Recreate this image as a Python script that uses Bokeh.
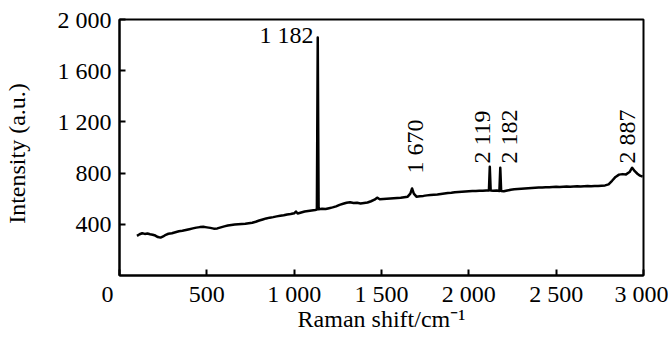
from math import pi
from bokeh.plotting import figure
from bokeh.models import FixedTicker, Range1d, ColumnDataSource
from bokeh.core.properties import value
from bokeh.embed import file_html
from bokeh.resources import INLINE

# ---- data ----
shift = [100, 115, 130, 145, 160, 175, 190, 205, 220, 235, 250, 265, 280, 300, 320, 340, 360, 380,
         400, 420, 440, 460, 480, 500, 520, 540, 560, 580, 600, 620, 640, 660, 680, 700, 720, 740,
         760, 780, 800, 820, 840, 860, 880, 900, 920, 940, 960, 980, 1000, 1010, 1020, 1040, 1060,
         1080, 1100, 1120, 1130, 1135, 1140, 1160, 1180, 1200, 1220, 1240, 1260, 1280, 1300, 1320,
         1340, 1360, 1380, 1400, 1420, 1440, 1460, 1475, 1490, 1510, 1530, 1550, 1570, 1590, 1610,
         1630, 1650, 1665, 1675, 1685, 1700, 1720, 1740, 1760, 1780, 1800, 1820, 1840, 1860, 1880,
         1900, 1920, 1940, 1960, 1980, 2000, 2020, 2040, 2060, 2080, 2100, 2115, 2120, 2125, 2140,
         2160, 2175, 2180, 2185, 2200, 2220, 2240, 2260, 2280, 2300, 2320, 2340, 2360, 2380, 2400,
         2420, 2440, 2460, 2480, 2500, 2520, 2540, 2560, 2580, 2600, 2620, 2640, 2660, 2680, 2700,
         2720, 2740, 2760, 2780, 2800, 2820, 2840, 2860, 2880, 2900, 2920, 2935, 2950, 2965, 2980,
         2995]
intensity = [310, 322, 330, 325, 328, 322, 318, 312, 300, 296, 305, 318, 326, 330, 338, 346, 350, 356,
             362, 368, 374, 378, 380, 376, 372, 366, 368, 376, 384, 390, 394, 398, 400, 402, 404, 408,
             412, 420, 430, 438, 446, 452, 456, 462, 466, 470, 476, 480, 486, 500, 484, 492, 500,
             504, 508, 512, 516, 1860, 518, 522, 520, 526, 532, 540, 552, 560, 568, 572,
             566, 568, 562, 566, 570, 580, 592, 608, 596, 598, 600, 602, 604, 606, 608,
             612, 616, 640, 680, 640, 616, 620, 622, 626, 628, 630, 632, 636, 640, 644,
             646, 650, 652, 654, 656, 658, 660, 660, 662, 662, 664, 664, 850, 664, 662,
             664, 660, 842, 660, 658, 664, 670, 674, 676, 678, 680, 682, 684, 686, 688,
             688, 690, 690, 692, 694, 692, 694, 696, 694, 696, 698, 696, 698, 700, 698,
             700, 700, 702, 704, 712, 740, 770, 788, 792, 790, 808, 842, 815, 795, 780,
             772]

peak_labels = ["1 182", "1 670", "2 119", "2 182", "2 887"]

x_ticks = [0, 500, 1000, 1500, 2000, 2500, 3000]
x_tick_labels = ["0", "500", "1 000", "1 500", "2 000", "2 500", "3 000"]
y_ticks = [400, 800, 1200, 1600, 2000]
y_tick_labels = ["400", "800", "1 200", "1 600", "2 000"]

FONT = "Liberation Serif"
NBSP = "\u00a0"

p = figure(width=668, height=340, output_backend="svg", toolbar_location=None,
           x_range=Range1d(0, 3000), y_range=Range1d(0, 2000),
           min_border_left=119, min_border_right=25, min_border_top=19, min_border_bottom=65,
           background_fill_color="white", border_fill_color="white")
p.grid.visible = False
p.outline_line_color = "black"
p.outline_line_width = 2
p.outline_line_alpha = 1

for ax in (p.xaxis[0], p.yaxis[0]):
    ax.axis_line_width = 2
    ax.axis_line_color = "black"
    ax.major_tick_line_width = 2
    ax.major_tick_line_color = "black"
    ax.major_tick_in = 6
    ax.major_tick_out = 0
    ax.minor_tick_line_color = None
    ax.major_label_text_font = FONT
    ax.major_label_text_font_size = "24px"
    ax.major_label_text_color = "black"
    ax.axis_label_text_font = FONT
    ax.axis_label_text_font_size = "24px"
    ax.axis_label_text_font_style = "normal"
    ax.axis_label_text_color = "black"

# the shared origin "0" sits left of the corner
overrides = dict(zip(x_ticks, x_tick_labels))
overrides[0] = overrides[0] + NBSP * 4
p.xaxis.ticker = FixedTicker(ticks=x_ticks)
p.xaxis.major_label_overrides = overrides
p.xaxis.major_label_standoff = 5
p.xaxis.axis_label = "Raman shift/cm\u207b\u00b9"
p.xaxis.axis_label_standoff = -4

p.yaxis.ticker = FixedTicker(ticks=y_ticks)
p.yaxis.major_label_overrides = dict(zip(y_ticks, y_tick_labels))
p.yaxis.major_label_standoff = 8
p.yaxis.axis_label = "Intensity (a.u.)" + NBSP * 2
p.yaxis.axis_label_standoff = 25

p.line(shift, intensity, line_color="black", line_width=2.5, line_join="round")

# peak annotations
p.text(x=[1110], y=[1880], text=[peak_labels[0]], text_align="right", text_baseline="middle",
       text_font=value(FONT), text_font_size="24px", text_color="black")
rot = ColumnDataSource(dict(x=[1689, 2078, 2232, 2908], y=[797, 875, 875, 875], t=peak_labels[1:]))
p.text(x="x", y="y", text="t", source=rot, angle=pi / 2, text_align="left", text_baseline="middle",
       text_font=value(FONT), text_font_size="24px", text_color="black")

open("out.html", "w").write(file_html(p, INLINE))
